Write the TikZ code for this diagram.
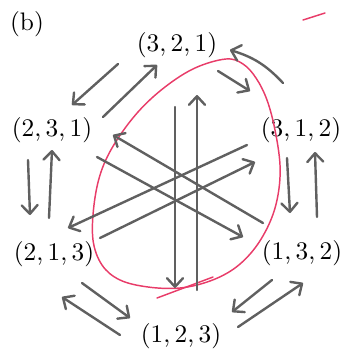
\documentclass[tikz,border=0pt]{standalone}
\usepackage{fontspec}
\setmainfont{lmroman10-regular}[Extension=.otf]
\usetikzlibrary{arrows.meta}

\begin{document}
\begin{tikzpicture}[
    x=0.75pt, y=-0.75pt,
    font=\fontsize{19}{22}\selectfont,
    perm/.style={
        inner sep=0pt
    },
    swap/.style={
        draw=swapgray,
        line width=1.8pt,
        line cap=round,
        -{Straight Barb[round,length=6.5pt,width=12pt]}
    },
    orbit/.style={
        draw=orbitred,
        line width=1.1pt,
        line cap=round
    }
]

\definecolor{swapgray}{RGB}{96,96,96}
\definecolor{orbitred}{RGB}{232,60,105}

\useasboundingbox (0,0) rectangle (343,354);

\node[perm] (tag) at (27,24) {(b)};

\node[perm] (n321) at (177,45) {(3,\,2,\,1)};
\node[perm] (n231) at (52,130) {(2,\,3,\,1)};
\node[perm] (n312) at (301,130) {(3,\,1,\,2)};
\node[perm] (n213) at (54,254) {(2,\,1,\,3)};
\node[perm] (n132) at (302,253) {(1,\,3,\,2)};
\node[perm] (n123) at (181,336) {(1,\,2,\,3)};

\draw[orbit] plot[smooth cycle, tension=0.6] coordinates {
    (226,59) (243,64) (256,78) (267,100) (275,130) (280,165) (278,195)
    (270,222) (255,248) (235,268) (210,281) (180,288) (148,287) (120,280)
    (102,265) (93,240) (94,205) (101,172) (115,143) (138,112) (165,87) (195,68)};
\draw[orbit] plot[smooth] coordinates {(157,298) (173,292) (213,277)};
\draw[orbit] (303,20) -- (325,13);

\draw[swap] ([shift={(-59,19)}]n321.center) -- ([shift={(20,-25)}]n231.center);
\draw[swap] ([shift={(51,-13)}]n231.center) -- ([shift={(-20,20)}]n321.center);
\draw[swap] ([shift={(41,26)}]n321.center) -- ([shift={(-51,-39)}]n312.center);
\draw[swap] ([shift={(-18,-47)}]n312.center) to[bend right=15] ([shift={(53,5)}]n321.center);

\draw[swap] ([shift={(-24,30)}]n231.center) -- ([shift={(-24,-39)}]n213.center);
\draw[swap] ([shift={(-5,-36)}]n213.center) -- ([shift={(0,20)}]n231.center);
\draw[swap] ([shift={(-14,28)}]n312.center) -- ([shift={(-12,-40)}]n132.center);
\draw[swap] ([shift={(15,-36)}]n132.center) -- ([shift={(14,22)}]n312.center);

\draw[swap] ([shift={(28,29)}]n213.center) -- ([shift={(-51,-18)}]n123.center);
\draw[swap] ([shift={(-61,-1)}]n123.center) -- ([shift={(8,43)}]n213.center);
\draw[swap] ([shift={(-30,27)}]n132.center) -- ([shift={(51,-24)}]n123.center);
\draw[swap] ([shift={(57,-9)}]n123.center) -- ([shift={(1,30)}]n132.center);

\draw[swap] ([shift={(-2,62)}]n321.center) -- ([shift={(-6,-48)}]n123.center);
\draw[swap] ([shift={(16,-46)}]n123.center) -- ([shift={(20,50)}]n321.center);
\draw[swap] ([shift={(-39,-30)}]n132.center) -- ([shift={(61,5)}]n231.center);
\draw[swap] ([shift={(45,27)}]n231.center) -- ([shift={(-59,-16)}]n132.center);
\draw[swap] ([shift={(-54,15)}]n312.center) -- ([shift={(14,-26)}]n213.center);
\draw[swap] ([shift={(46,-16)}]n213.center) -- ([shift={(-46,32)}]n312.center);

\end{tikzpicture}
\end{document}
